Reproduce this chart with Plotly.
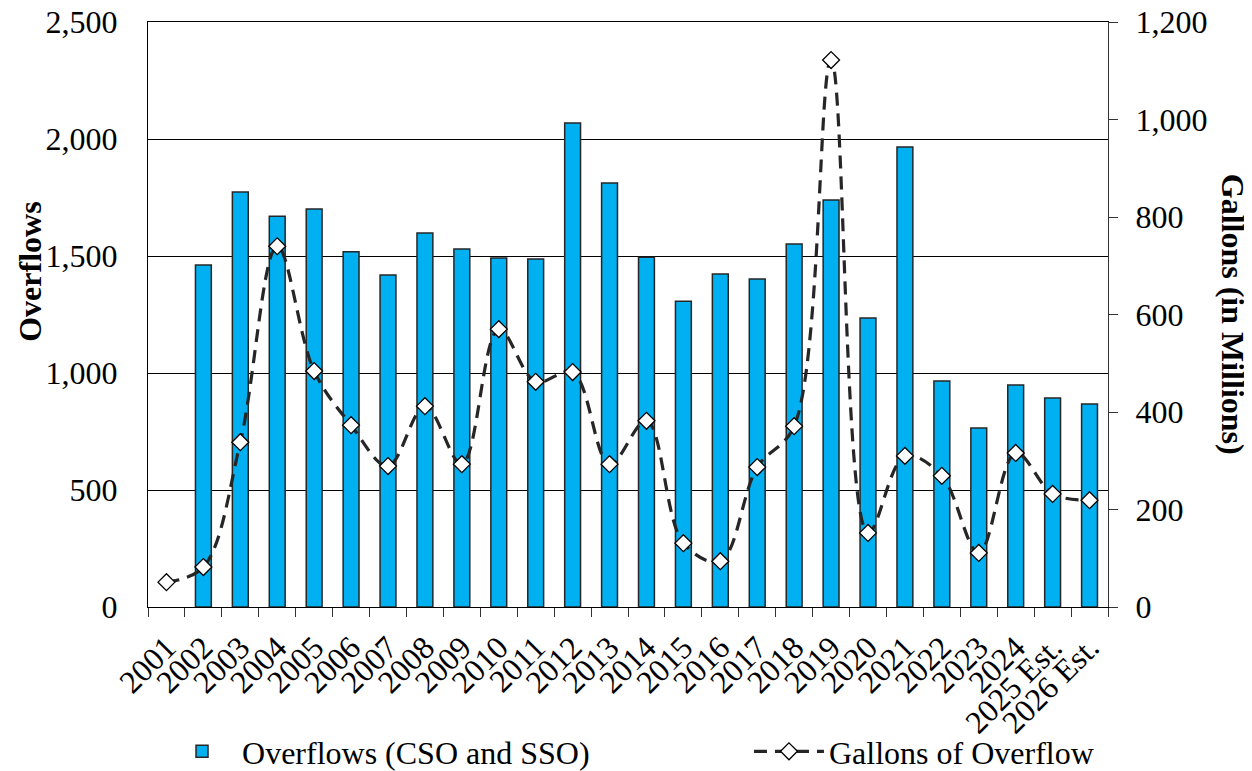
import plotly.graph_objects as go

years = ["2001", "2002", "2003", "2004", "2005", "2006", "2007", "2008", "2009",
         "2010", "2011", "2012", "2013", "2014", "2015", "2016", "2017", "2018",
         "2019", "2020", "2021", "2022", "2023", "2024", "2025 Est.", "2026 Est."]

overflows = [None, 1462, 1773, 1670, 1701, 1518, 1419, 1598, 1530, 1491, 1487,
             2068, 1812, 1495, 1307, 1423, 1402, 1551, 1739, 1235, 1966, 966,
             765, 949, 893, 868]

gallons = [51, 82, 338, 740, 484, 373, 289, 412, 293, 570, 462, 482, 293, 382,
           131, 94, 287, 371, 1122, 152, 310, 269, 111, 316, 232, 219]

left_ticks = [0, 500, 1000, 1500, 2000, 2500]
left_labels = ["0", "500", "1,000", "1,500", "2,000", "2,500"]
right_ticks = [0, 200, 400, 600, 800, 1000, 1200]
right_labels = ["0", "200", "400", "600", "800", "1,000", "1,200"]

FONT = "Liberation Serif"
FS = 32

fig = go.Figure()
fig.add_trace(go.Bar(
    x=years, y=overflows, name="Overflows (CSO and SSO)",
    width=0.43,
    marker=dict(color="#00B0F0", line=dict(color="#262626", width=1.5)),
    yaxis="y", legend="legend",
))
fig.add_trace(go.Scatter(
    x=years, y=gallons, name="Gallons of Overflow",
    mode="lines+markers",
    line=dict(color="#262626", width=3.2, dash="13px,8px", shape="spline", smoothing=1),
    marker=dict(symbol="diamond", size=13, color="white",
                line=dict(color="black", width=1.3)),
    yaxis="y2", legend="legend2",
))

legend_common = dict(orientation="h", yanchor="top", y=-0.2,
                     font=dict(family=FONT, size=FS, color="black"),
                     itemwidth=70, bgcolor="rgba(0,0,0,0)")

# page body has an 8px margin, so the figure is 8px smaller on each axis
fig.update_layout(
    width=1244, height=763,
    margin=dict(l=140, r=144, t=14, b=164, autoexpand=False),
    paper_bgcolor="white", plot_bgcolor="white",
    font=dict(family=FONT, size=FS, color="black"),
    showlegend=True,
    legend=dict(x=0.0146, xanchor="left", **legend_common),
    legend2=dict(x=0.626, xanchor="left", **legend_common),
    xaxis=dict(
        type="category", range=[-0.5, len(years) - 0.5],
        tickmode="array", tickvals=years, ticktext=years,
        tickangle=-45, tickson="boundaries",
        ticks="outside", ticklen=9, tickcolor="#333", tickwidth=1,
        ticklabelstandoff=8, ticklabeloverflow="allow",
        showline=True, linecolor="black", linewidth=1, mirror=True,
        showgrid=False, automargin=False,
        tickfont=dict(family=FONT, size=FS, color="black"),
    ),
    yaxis=dict(
        range=[0, 2500], tickvals=left_ticks, ticktext=left_labels,
        showgrid=True, gridcolor="black", gridwidth=1,
        showline=True, linecolor="black", linewidth=1,
        ticks="", ticklabelstandoff=23, automargin=False,
        ticklabeloverflow="allow",
        tickfont=dict(family=FONT, size=FS, color="black"),
        zeroline=False,
    ),
    yaxis2=dict(
        range=[0, 1200], tickvals=right_ticks, ticktext=right_labels,
        overlaying="y", side="right", showgrid=False,
        showline=True, linecolor="#333", linewidth=1,
        ticks="outside", ticklen=9, tickcolor="#333",
        ticklabelstandoff=11, automargin=False,
        ticklabeloverflow="allow",
        tickfont=dict(family=FONT, size=FS, color="black"),
        zeroline=False,
    ),
    annotations=[
        dict(text="<b>Overflows</b>", xref="paper", yref="paper",
             x=-0.1229, y=0.573, xanchor="center", yanchor="middle",
             textangle=-90, showarrow=False,
             font=dict(family=FONT, size=FS, color="black")),
        dict(text="<b>Gallons (in Millions)</b>", xref="paper", yref="paper",
             x=1.131, y=0.5, xanchor="center", yanchor="middle",
             textangle=90, showarrow=False,
             font=dict(family=FONT, size=FS, color="black")),
    ],
)

fig.write_html("out.html")
